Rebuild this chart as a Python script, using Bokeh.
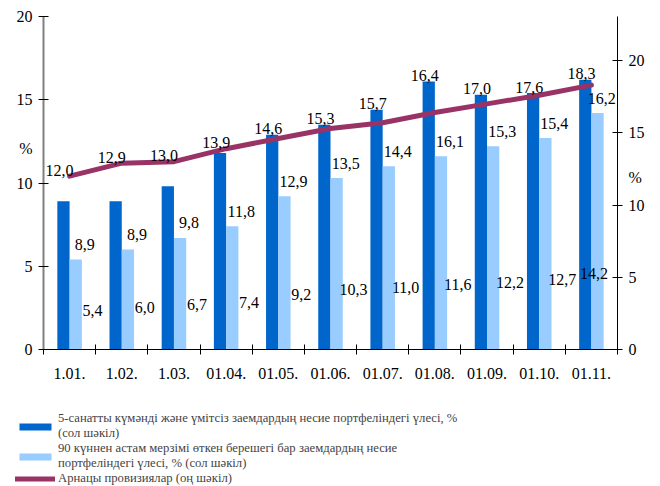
from bokeh.plotting import figure
from bokeh.layouts import column
from bokeh.models import (Range1d, LinearAxis, FixedTicker, Legend, LegendItem,
                          ColumnDataSource)
from bokeh.core.properties import value
from bokeh.embed import file_html
from bokeh.resources import INLINE

categories = ["1.01.", "1.02.", "1.03.", "01.04.", "01.05.", "01.06.",
              "01.07.", "01.08.", "01.09.", "01.10.", "01.11."]
doubtful_share = [8.9, 8.9, 9.8, 11.8, 12.9, 13.5, 14.4, 16.1, 15.3, 15.4, 16.2]
overdue90_share = [5.4, 6.0, 6.7, 7.4, 9.2, 10.3, 11.0, 11.6, 12.2, 12.7, 14.2]
provisions = [12.0, 12.9, 13.0, 13.9, 14.6, 15.3, 15.7, 16.4, 17.0, 17.6, 18.3]

left_ticks = [0, 5, 10, 15, 20]
right_ticks = [0, 5, 10, 15, 20]

label_dark = "5-санатты күмәнді және үмітсіз заемдардың несие портфеліндегі үлесі, %\n(сол шәкіл)"
label_light = "90 күннен астам мерзімі өткен берешегі бар заемдардың несие\nпортфеліндегі үлесі, % (сол шәкіл)"
label_line = "Арнацы провизиялар (оң шәкіл)"

DARK = "#0066CC"
LIGHT = "#99CCFF"
LINE = "#993366"
FONT = "Liberation Serif"
RIGHT_MAX = 23.05
LEFT_UNIT_POS = 12.07
RIGHT_UNIT_POS = 11.9

n = len(categories)
centers = [i + 0.5 for i in range(n)]
bw = 0.235

def fmt(v):
    return f"{v:.1f}".replace(".", ",")

p = figure(width=660, height=392, output_backend="svg", toolbar_location=None,
           x_range=Range1d(0, n), y_range=Range1d(0, 20),
           min_border_left=43, min_border_right=43, min_border_top=16,
           min_border_bottom=43)
p.extra_y_ranges = {"right": Range1d(0, RIGHT_MAX)}
p.outline_line_color = None
p.grid.visible = False

src = ColumnDataSource(dict(
    xd=[c - bw / 2 for c in centers],
    xl=[c + bw / 2 for c in centers],
    xc=centers,
    x_dark_lab=[min(c + 0.29, n - 0.3) for c in centers],
    x_light_lab=[min(c + 0.44, n - 0.45) for c in centers],
    dark=doubtful_share,
    light=overdue90_share,
    prov=provisions,
    dark_txt=[fmt(v) for v in doubtful_share],
    light_txt=[fmt(v) for v in overdue90_share],
    prov_txt=[fmt(v) for v in provisions],
    light_lab_y=[0.25 * v + 1.0 for v in overdue90_share],
    prov_lab_y=[max(pv, dv * RIGHT_MAX / 20) for pv, dv in zip(provisions, doubtful_share)],
))

p.vbar(x="xd", top="dark", width=bw, source=src, fill_color=DARK, line_color=None)
p.vbar(x="xl", top="light", width=bw, source=src, fill_color=LIGHT, line_color=None)
p.line(x="xc", y="prov", source=src, y_range_name="right",
       line_color=LINE, line_width=5, line_join="round", line_cap="round")

# x axis: labels at category centres, tick marks between categories
xa = p.xaxis[0]
xa.ticker = FixedTicker(ticks=centers, minor_ticks=list(range(0, n + 1)))
xa.major_label_overrides = {c: cat for c, cat in zip(centers, categories)}
xa.major_tick_in = 0
xa.major_tick_out = 5
xa.major_tick_line_color = None
xa.minor_tick_in = 5
xa.minor_tick_out = 5
xa.minor_tick_line_color = "black"
xa.axis_line_color = "black"
xa.major_label_standoff = 13
xa.major_label_text_font = FONT
xa.major_label_text_font_size = "16px"
xa.major_label_text_color = "black"

# left axis (with the unit "%" shown between ticks)
ya = p.yaxis[0]
ya.ticker = FixedTicker(ticks=left_ticks + [LEFT_UNIT_POS], minor_ticks=left_ticks)
ya.major_label_overrides = {LEFT_UNIT_POS: "%"}
ya.axis_line_color = "#808080"
ya.axis_line_width = 2
ya.major_tick_in = 0
ya.major_tick_out = 5
ya.major_tick_line_color = None
ya.minor_tick_in = 5
ya.minor_tick_out = 5
ya.minor_tick_line_color = "black"
ya.major_label_standoff = 6
ya.major_label_text_font = FONT
ya.major_label_text_font_size = "16px"
ya.major_label_text_color = "black"

ra = LinearAxis(y_range_name="right",
                ticker=FixedTicker(ticks=right_ticks + [RIGHT_UNIT_POS], minor_ticks=right_ticks))
ra.major_label_overrides = {RIGHT_UNIT_POS: "%"}
ra.axis_line_color = "black"
ra.major_tick_in = 0
ra.major_tick_out = 5
ra.major_tick_line_color = None
ra.minor_tick_in = 5
ra.minor_tick_out = 5
ra.minor_tick_line_color = "black"
ra.major_label_standoff = 6
ra.major_label_text_font = FONT
ra.major_label_text_font_size = "16px"
ra.major_label_text_color = "black"
p.add_layout(ra, "right")

# data labels
p.text(x="x_dark_lab", y="light", text="dark_txt", source=src, y_offset=-15,
       text_align="center", text_baseline="middle", text_font=value(FONT),
       text_font_size="16px", text_color="black")
p.text(x="x_light_lab", y="light_lab_y", text="light_txt", source=src,
       text_align="center", text_baseline="middle", text_font=value(FONT),
       text_font_size="16px", text_color="black")
p.text(x="xc", y="prov_lab_y", text="prov_txt", source=src, y_range_name="right",
       x_offset=-10, y_offset=-6, text_align="center", text_baseline="alphabetic",
       text_font=value(FONT), text_font_size="16px", text_color="black")

# legend in its own strip below the chart (its glyph renderers sit outside the view)
p2 = figure(width=660, height=94, output_backend="svg", toolbar_location=None,
            x_axis_location=None, y_axis_location=None,
            x_range=Range1d(-50, -40), y_range=Range1d(-50, -40),
            min_border_left=0, min_border_right=0, min_border_top=0, min_border_bottom=0)
p2.outline_line_color = None
p2.grid.visible = False
try:
    p.frame_align = False
    p2.frame_align = False
except Exception:
    pass
g1 = p2.vbar(x="xd", top="dark", width=bw, source=src, fill_color=DARK, line_color=None)
g2 = p2.vbar(x="xl", top="light", width=bw, source=src, fill_color=LIGHT, line_color=None)
g3 = p2.line(x="xc", y="prov", source=src, line_color=LINE, line_width=5, line_cap="round")

legend = Legend(items=[
    LegendItem(label=label_dark, renderers=[g1]),
    LegendItem(label=label_light, renderers=[g2]),
    LegendItem(label=label_line, renderers=[g3]),
], location=(15, 0), orientation="vertical")
legend.label_text_font = FONT
legend.label_text_font_size = "12.7px"
legend.label_text_line_height = 1.8
legend.label_standoff = 3
legend.glyph_width = 40
legend.glyph_height = 9
legend.spacing = -6
legend.padding = 0
legend.margin = 0
legend.border_line_color = None
legend.background_fill_alpha = 0
p2.add_layout(legend)

open("out.html", "w").write(file_html(column(p, p2, spacing=0), INLINE))
